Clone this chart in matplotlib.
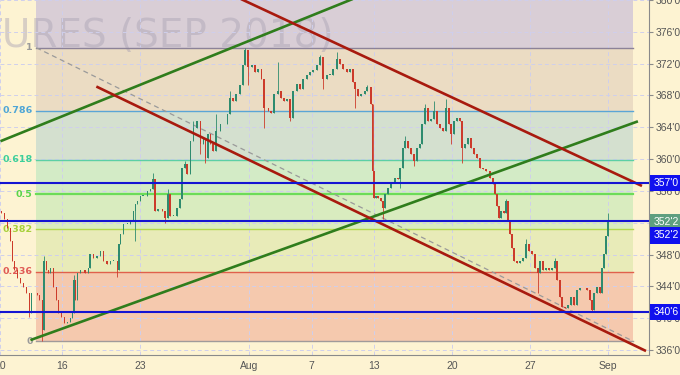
import matplotlib.pyplot as plt
from matplotlib.transforms import blended_transform_factory

# 거래일 인덱스 (7/10 = 0) 와 종가
bar_t = [
    0.09, 0.28, 0.47, 0.67, 0.79, 0.92, 1.12, 1.31, 1.50, 1.69,
    1.88, 2.01, 2.21, 2.40, 2.53, 2.72, 2.81, 2.97, 3.10, 3.23,
    3.42, 3.62, 3.74, 3.94, 4.13, 4.32, 4.51, 4.64, 4.74, 4.83,
    4.96, 5.15, 5.47, 5.67, 5.79, 5.99, 6.24, 6.44, 6.63, 6.88,
    7.08, 7.27, 7.53, 7.62, 7.72, 7.91, 8.17, 8.36, 8.55, 8.68,
    8.81, 9.00, 9.19, 9.45, 9.64, 9.83, 9.96, 10.15, 10.41, 10.60,
    10.79, 10.92, 11.12, 11.37, 11.56, 11.69, 11.88, 12.01, 12.21, 12.40,
    12.65, 12.85, 13.04, 13.17, 13.36, 13.49, 13.68, 13.87, 14.13, 14.32,
    14.58, 14.77, 14.96, 15.15, 15.41, 15.60, 15.73, 15.92, 16.18, 16.37,
    16.56, 16.76, 16.95, 17.21, 17.40, 17.59, 17.85, 18.04, 18.23, 18.42,
    18.62, 18.81, 19.06, 19.26, 19.45, 19.71, 19.90, 20.09, 20.35, 20.54,
    20.73, 20.99, 21.18, 21.37, 21.63, 21.82, 22.01, 22.27, 22.46, 22.65,
    22.78, 22.97, 23.17, 23.42, 23.55, 23.81, 23.90, 24.00, 24.13, 24.26,
    24.45, 24.58, 24.71, 24.90, 25.09, 25.35, 25.54, 25.67, 25.86, 25.99,
    26.18, 26.37, 26.56, 26.76, 26.95, 27.08, 27.27, 27.46, 27.65, 27.85,
    28.04, 28.23, 28.42, 28.62, 28.81, 28.94, 29.13, 29.32, 29.51, 29.64,
    29.83, 30.03, 30.22, 30.41, 30.60, 30.79, 30.99, 31.18, 31.44, 31.63,
    31.76, 31.88, 32.01, 32.14, 32.33, 32.46, 32.59, 32.72, 32.85, 32.97,
    33.17, 33.36, 33.55, 33.74, 33.94, 34.13, 34.32, 34.51, 34.64, 34.83,
    35.03, 35.22, 35.41, 35.60, 35.73, 35.92, 36.05, 36.24, 36.44, 36.63,
    36.82, 37.01, 37.21, 37.40, 37.65, 37.85, 37.97, 38.10, 38.30, 38.49,
    38.62, 38.74, 38.87, 39.00,
]
bar_close = [
    353.25, 352.5, 351.375, 349.75, 347.25, 346.0, 345.0, 344.375, 343.875, 343.125,
    340.625, 343.125, 343.125, 342.875, 342.25, 338.5, 347.25, 346.0, 345.625, 346.25,
    343.875, 342.25, 340.625, 340.125, 339.375, 339.5, 340.0, 340.625, 344.75, 342.25,
    345.625, 346.0, 345.625, 346.375, 348.125, 347.625, 347.875, 348.5, 347.25, 346.875,
    347.25, 347.25, 346.0, 349.375, 350.625, 351.875, 351.875, 352.25, 353.5, 354.375,
    354.75, 355.375, 355.375, 356.0, 356.25, 357.5, 353.5, 353.75, 353.5, 352.625,
    355.625, 352.875, 352.875, 353.875, 355.0, 358.875, 359.375, 358.125, 362.25, 363.875,
    364.75, 361.875, 362.625, 360.125, 363.125, 361.875, 361.0, 363.5, 364.375, 364.375,
    365.625, 367.625, 367.25, 368.125, 369.375, 371.875, 373.75, 371.625, 371.875, 371.0,
    371.375, 370.125, 366.375, 366.0, 365.75, 368.125, 368.5, 367.625, 367.25, 367.5,
    365.125, 368.5, 369.5, 368.875, 370.125, 370.625, 371.0, 371.25, 371.875, 372.875,
    370.125, 370.625, 370.625, 371.375, 372.625, 372.0, 371.375, 371.0, 371.375, 369.75,
    368.875, 367.875, 368.125, 368.5, 369.125, 366.875, 358.5, 355.125, 355.375, 355.125,
    354.75, 353.875, 355.625, 356.375, 357.0, 357.625, 357.5, 358.875, 361.375, 362.25,
    361.375, 360.625, 359.75, 361.375, 361.875, 364.375, 366.375, 364.75, 365.0, 366.0,
    364.375, 363.875, 363.5, 366.375, 364.375, 363.125, 364.75, 365.125, 364.75, 361.375,
    361.875, 362.625, 361.375, 360.625, 360.125, 358.875, 358.75, 358.5, 357.625, 356.875,
    355.625, 354.125, 352.625, 353.5, 353.25, 354.75, 352.25, 350.625, 348.875, 347.25,
    347.0, 347.25, 347.625, 349.375, 348.5, 348.125, 346.375, 345.625, 347.25, 346.0,
    346.375, 346.0, 346.25, 347.25, 344.75, 342.625, 341.375, 341.25, 341.625, 342.625,
    341.625, 343.5, 343.75, 343.75, 343.5, 342.25, 341.0, 343.125, 343.875, 343.125,
    346.375, 348.125, 350.375, 352.25,
]
first_open = 353.5
# 꼬리가 긴 봉 (봉 번호: 값)
wick_high = {16: 347.875, 28: 345.375, 55: 358.25, 60: 356.25, 66: 359.75, 69: 364.75,
             77: 365.625, 81: 368.5, 86: 374.0, 96: 372.25, 109: 373.125, 114: 373.5,
             124: 369.375, 139: 362.875, 146: 366.875, 149: 367.25, 153: 367.5,
             175: 355.0, 183: 350.0, 193: 347.625, 213: 353.25}
wick_low = {10: 340.125, 15: 337.125, 42: 345.125, 49: 349.75, 59: 352.0, 71: 360.625,
            73: 359.5, 87: 369.375, 92: 363.875, 100: 364.75, 110: 368.875,
            120: 366.375, 131: 352.5, 137: 356.375, 142: 359.125, 155: 361.875,
            159: 359.5, 187: 343.125, 206: 340.75}

# 피보나치 되돌림
fib_high = 374.0
fib_low = 337.125
fib_start, fib_end = 2.33, 40.6
fib_levels = [0, 0.236, 0.382, 0.5, 0.618, 0.786, 1]
fib_line_colors = ['#a09a9a', '#e0604c', '#b4d84a', '#6cdc58', '#5ccfa5', '#5aa5d6', '#8c8298']
fib_text_colors = ['#9a9a9a', '#e05a55', '#a8d03c', '#5ad44a', '#3ccf9a', '#4fa6d6', '#9a9a9a']
fib_band_colors = ['#f5c9ae', '#e8ebb8', '#d9ecbf', '#d3ebc6', '#d4e0cf', '#ebdcc3', '#d9ced6']

# 수평선 (지지/저항)
h_levels = [357.0, 352.25, 340.75]
h_labels = ["357'0", "352'2", "340'6"]

# 추세선 (시작 t, 시작 가격, 끝 t, 끝 가격)
green_lines = [(1.95, 337.25, 40.92, 364.75), (0.03, 362.25, 22.78, 380.25)]
red_lines = [(15.22, 380.34, 41.18, 356.625), (6.18, 369.125, 41.44, 335.875)]

last_price = 352.25
x_ticks = [0, 4, 9, 16, 20, 24, 29, 34, 39]
x_labels = ['10', '16', '23', 'Aug', '7', '13', '20', '27', 'Sep']
y_ticks = list(range(336, 381, 4))

bg = '#fdf3d2'
axis_font = ['Liberation Sans', 'DejaVu Sans']
fig = plt.figure(figsize=(6.8, 3.75), dpi=100)
fig.patch.set_facecolor(bg)
ax = fig.add_axes([0, 0.0533, 0.9544, 0.9467])
ax.set_facecolor(bg)
ax.set_xlim(0.026, 41.63)
ax.set_ylim(335.375, 379.75)

# 피보나치 영역
prices = [fib_low + lv * (fib_high - fib_low) for lv in fib_levels]
tops = prices[1:] + [381]
for lo, hi, c in zip(prices, tops, fib_band_colors):
    ax.fill_between([fib_start, fib_end], lo, hi, color=c, lw=0, zorder=0.2)
for lv, p, c, tc in zip(fib_levels, prices, fib_line_colors, fib_text_colors):
    lw = 1.6 if lv == 0.5 else 1.0
    ax.plot([fib_start, fib_end], [p, p], color=c, lw=lw, zorder=1.8)
    ax.text(2.1, p, '%g' % lv, ha='right', va='center', fontsize=6.8,
            fontweight='bold', color=tc, zorder=2)
ax.plot([fib_start, fib_end], [fib_high, fib_low], color='#9a9a9a', lw=0.9,
        ls=(0, (4, 3)), zorder=1.9)

ax.text(21.4, 374.1, 'CORN FUTURES (SEP 2018)', ha='right', va='baseline',
        fontsize=28, color='#aaa2b4', alpha=0.45, zorder=0.6)

# 격자
ax.grid(True, color='#cfcfec', ls=(0, (4, 3)), lw=0.7)

# 캔들
prev = first_open
for i, (t, c) in enumerate(zip(bar_t, bar_close)):
    o = prev
    hi = max(o, c, wick_high.get(i, c))
    lo = min(o, c, wick_low.get(i, c))
    col = '#2e8b6e' if c >= o else '#cc3b2b'
    ax.vlines(t, lo, hi, color=col, lw=0.6, zorder=3)
    body = max(abs(c - o), 0.08)
    ax.bar(t, body, bottom=min(o, c), width=0.1, color=col, lw=0, zorder=3)
    prev = c

# 추세선
for x0, y0, x1, y1 in green_lines:
    ax.plot([x0, x1], [y0, y1], color='#2f7d1c', lw=1.9, zorder=4, solid_capstyle='butt')
for x0, y0, x1, y1 in red_lines:
    ax.plot([x0, x1], [y0, y1], color='#a81a0e', lw=1.9, zorder=4, solid_capstyle='butt')
for p in h_levels:
    ax.axhline(p, color='#1414d2', lw=1.5, zorder=4)

# 축
for s in ['top', 'left']:
    ax.spines[s].set_visible(False)
for s in ['bottom', 'right']:
    ax.spines[s].set_color('#8a8a8a')
ax.yaxis.tick_right()
ax.set_yticks(y_ticks)
ax.set_yticklabels(["%d'0" % v for v in y_ticks], family=axis_font)
ax.set_xticks(x_ticks)
ax.set_xticklabels(x_labels, family=axis_font)
ax.tick_params(axis='y', length=3, color='#8a8a8a', labelsize=7.5, labelcolor='#555555', pad=1.5)
ax.tick_params(axis='x', length=0, labelsize=7.5, labelcolor='#555555', pad=4)

# 가격 태그
tr = blended_transform_factory(ax.transAxes, ax.transData)
tags = [(h_levels[0], h_labels[0], '#1010ee'),
        (last_price - 0.12, "352'2", '#5f9f80'),
        (h_levels[1] - 1.85, h_labels[1], '#1010ee'),
        (h_levels[2], h_labels[2], '#1010ee')]
for y, txt, c in tags:
    ax.text(1.007, y, txt, transform=tr, ha='left', va='center', fontsize=7.5,
            family=axis_font, color='white', zorder=6,
            bbox=dict(boxstyle='square,pad=0.3', fc=c, ec='none'))

fig.savefig('out.png', dpi=100, facecolor=bg)
